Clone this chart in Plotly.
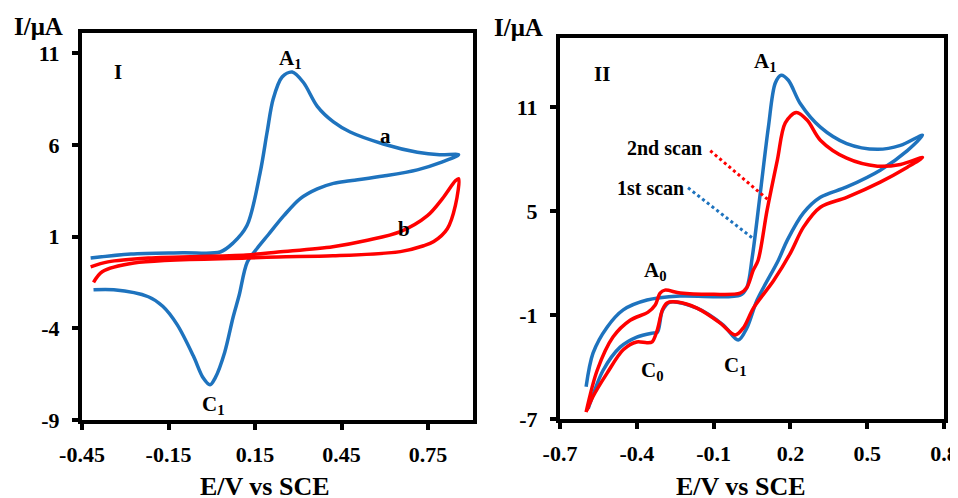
import plotly.graph_objects as go

# ---------------- Panel I data ----------------
E_a = [-0.42, -0.28, -0.1, 0.029, 0.074, 0.122, 0.168, 0.192, 0.213, 0.244, 0.279, 0.318, 0.366,
       0.422, 0.48, 0.595, 0.713, 0.79, 0.856,
       0.80, 0.713, 0.595, 0.48, 0.422, 0.366, 0.307, 0.25, 0.196, 0.157, 0.123, 0.095, 0.074,
       0.045, 0.012, -0.006, -0.03, -0.064, -0.12, -0.17, -0.22, -0.34, -0.41]
I_a = [-0.17, 0.05, 0.12, 0.16, 0.65, 1.6, 4.5, 6.7, 8.5, 9.7, 9.97, 9.4, 8.1,
       7.25, 6.7, 6.05, 5.6, 5.46, 5.46,
       5.07, 4.64, 4.3, 4.04, 3.9, 3.6, 3.07, 2.14, 1.1, 0.35, -0.4, -2.2, -3.4,
       -5.3, -6.7, -7.08, -6.7, -5.5, -3.8, -2.8, -2.28, -1.9, -1.9]

E_b = [-0.42, -0.36, -0.22, 0.12, 0.23, 0.42, 0.54, 0.654, 0.748, 0.80, 0.845, 0.856,
       0.845, 0.817, 0.77, 0.735, 0.654, 0.42, 0.23, 0.12, -0.27, -0.38, -0.41]
I_b = [-0.65, -0.38, -0.17, 0.0, 0.16, 0.45, 0.8, 1.27, 2.14, 3.07, 4.04, 4.15,
       2.7, 1.43, 0.73, 0.5, 0.18, -0.05, -0.11, -0.17, -0.44, -0.92, -1.5]

# ---------------- Panel II data ----------------
E_1st = [-0.598, -0.571, -0.516, -0.453, -0.36, -0.231, 0.004, 0.03, 0.051, 0.082, 0.114, 0.141, 0.164,
         0.192, 0.239, 0.317, 0.42, 0.54, 0.63, 0.716,
         0.657, 0.551, 0.42, 0.317, 0.251, 0.188, 0.153, 0.07, 0.03, -0.004, -0.062, -0.165, -0.27,
         -0.3, -0.32, -0.34, -0.4, -0.465, -0.532, -0.583, -0.59]
I_1st = [-5.14, -3.2, -1.7, -0.7, -0.13, 0.1, 0.15, 0.6, 2.35, 6.0, 9.85, 12.4, 12.85,
         12.56, 11.2, 9.85, 8.9, 8.57, 8.8, 9.39,
         8.5, 7.37, 6.4, 5.8, 4.9, 3.33, 2.17, -0.13, -1.74, -2.44, -1.58, -0.6, -0.25,
         -0.75, -2.0, -2.04, -2.27, -2.85, -4.2, -6.1, -6.4]

E_2nd = [-0.598, -0.555, -0.493, -0.426, -0.356, -0.328, -0.309, -0.29, -0.23, -0.1, 0.004, 0.03, 0.055,
         0.074, 0.109, 0.149, 0.18, 0.223, 0.266, 0.317, 0.42, 0.54, 0.63, 0.716,
         0.657, 0.551, 0.42, 0.317, 0.251, 0.2, 0.134, 0.056, 0.016, -0.016, -0.074, -0.165, -0.243,
         -0.282, -0.3, -0.32, -0.34, -0.36, -0.4, -0.453, -0.516, -0.571, -0.595]
I_2nd = [-6.6, -4.2, -2.27, -1.3, -0.83, -0.42, 0.27, 0.44, 0.27, 0.2, 0.27, 0.6, 1.6,
         2.17, 5.06, 7.95, 10.1, 10.7, 10.25, 9.1, 8.06, 7.6, 7.7, 8.1,
         7.54, 6.68, 5.8, 5.23, 4.08, 2.58, 0.98, -0.58, -1.74, -2.15, -1.46, -0.6, -0.25,
         -0.3, -0.7, -1.86, -2.55, -2.6, -2.55, -3.0, -4.35, -5.7, -6.5]

ticks_x1 = [-0.45, -0.15, 0.15, 0.45, 0.75]
ticks_y1 = [-9, -4, 1, 6, 11]
ticks_x2 = [-0.7, -0.4, -0.1, 0.2, 0.5, 0.8]
ticks_y2 = [-7, -1, 5, 11]

BLUE = "#1E73BE"
RED = "#FF0000"
FONT = "Liberation Serif"

# page body has an 8 px margin; figure is sized to fill the rest of the window
OFF = 8
W, H = 958 - OFF, 498 - OFF


def px(xp):
    return (xp - OFF) / W


def py(yp):
    return 1 - (yp - OFF) / H


fig = go.Figure()
line_kw = dict(width=3.5, shape="spline", smoothing=0.9)
fig.add_trace(go.Scatter(x=E_a, y=I_a, mode="lines", line=dict(color=BLUE, **line_kw),
                         xaxis="x", yaxis="y", showlegend=False))
fig.add_trace(go.Scatter(x=E_b, y=I_b, mode="lines", line=dict(color=RED, **line_kw),
                         xaxis="x", yaxis="y", showlegend=False))
fig.add_trace(go.Scatter(x=E_1st, y=I_1st, mode="lines", line=dict(color=BLUE, **line_kw),
                         xaxis="x2", yaxis="y2", showlegend=False))
fig.add_trace(go.Scatter(x=E_2nd, y=I_2nd, mode="lines", line=dict(color=RED, **line_kw),
                         xaxis="x2", yaxis="y2", showlegend=False))

axis_common = dict(showline=True, mirror=True, linecolor="black", linewidth=4, ticks="outside",
                   ticklen=6, tickwidth=3.5, tickcolor="black", showgrid=False, zeroline=False,
                   automargin=False,
                   tickfont=dict(family=FONT, size=22, color="black"))


def bold(vals, fmt):
    return [f"<b>{fmt.format(v)}</b>" for v in vals]


fig.update_layout(
    width=W, height=H, autosize=False, margin=dict(l=0, r=0, t=0, b=0, pad=0),
    paper_bgcolor="white", plot_bgcolor="white",
    xaxis=dict(domain=[px(82), px(473)], range=[-0.45, 0.906], tickvals=ticks_x1,
               ticktext=bold(ticks_x1, "{:.2f}"), anchor="y", ticklabelstandoff=6, **axis_common),
    yaxis=dict(domain=[py(420), py(33)], range=[-9, 12.1], tickvals=ticks_y1, ticktext=bold(ticks_y1, "{}"),
               anchor="x", ticklabelstandoff=8, **axis_common),
    xaxis2=dict(domain=[px(560), px(944)], range=[-0.7, 0.8], tickvals=ticks_x2,
                ticktext=bold(ticks_x2, "{:.1f}"), anchor="y2", ticklabelstandoff=6, **axis_common),
    yaxis2=dict(domain=[py(419), py(38)], range=[-7, 15], tickvals=ticks_y2, ticktext=bold(ticks_y2, "{}"),
                anchor="x2", ticklabelstandoff=8, **axis_common),
)


def txt(text, x, y, xref, yref, size=21, color="black"):
    fig.add_annotation(text=f"<b>{text}</b>", x=x, y=y, xref=xref, yref=yref, showarrow=False,
                       xanchor="center", yanchor="middle",
                       font=dict(family=FONT, size=size, color=color))


# axis titles
txt("I/μA", px(38), py(26), "paper", "paper", size=25)
txt("I/μA", px(518), py(27), "paper", "paper", size=25)
txt("E/V vs SCE", px(265), py(486), "paper", "paper", size=26)
txt("E/V vs SCE", px(741), py(486), "paper", "paper", size=26)

# panel I labels
txt("I", -0.325, 10.0, "x", "y")
txt("A<sub>1</sub>", 0.272, 10.7, "x", "y")
txt("a", 0.602, 6.5, "x", "y")
txt("b", 0.665, 1.43, "x", "y")
txt("C<sub>1</sub>", 0.005, -8.2, "x", "y")

# panel II labels
txt("II", -0.536, 12.94, "x2", "y2")
txt("A<sub>1</sub>", 0.102, 13.6, "x2", "y2")
txt("2nd scan", -0.293, 8.66, "x2", "y2", size=20)
txt("1st scan", -0.348, 6.35, "x2", "y2", size=20)
txt("A<sub>0</sub>", -0.328, 1.55, "x2", "y2")
txt("C<sub>0</sub>", -0.34, -4.2, "x2", "y2")
txt("C<sub>1</sub>", -0.016, -3.94, "x2", "y2")

# leader lines (dotted)
fig.add_shape(type="line", x0=-0.113, y0=8.49, x1=0.113, y1=5.66, xref="x2", yref="y2",
              line=dict(color=RED, width=3, dash="dot"))
fig.add_shape(type="line", x0=-0.2, y0=6.35, x1=0.051, y1=3.46, xref="x2", yref="y2",
              line=dict(color=BLUE, width=3, dash="dot"))

fig.write_html("out.html")
